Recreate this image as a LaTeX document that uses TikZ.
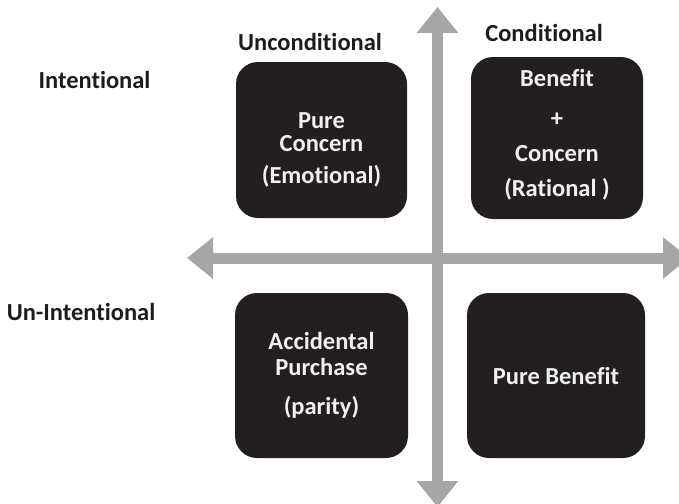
\documentclass[tikz,border=0pt]{standalone}
\usepackage{fontspec}
\setmainfont{Carlito}[Ligatures=NoCommon]
\usetikzlibrary{arrows.meta}
\definecolor{boxblack}{RGB}{35,31,32}
\definecolor{axisgray}{RGB}{166,166,166}
\definecolor{labelblack}{RGB}{28,28,28}
\begin{document}
\begin{tikzpicture}[x=1pt,y=-1pt,font=\fontsize{24.5}{23}\selectfont\bfseries,
  quad/.style={fill=boxblack,rounded corners=22pt,inner sep=0pt},
  quadtext/.style={text=white!94!black,align=center},
  axislbl/.style={text=labelblack},
  axis/.style={axisgray,line width=11pt,
    {Triangle[width=40pt,length=26pt]}-{Triangle[width=40pt,length=26pt]}}]
  \useasboundingbox (0,0) rectangle (679,503);
  \clip (0,0) rectangle (679,503);
  % axes
  \coordinate (top) at (437.5,7);
  \coordinate (bottom) at (437.5,507);
  \coordinate (left) at (187,258);
  \coordinate (right) at (689,258);
  \draw[axis] (top) -- (bottom);
  \draw[axis] (left) -- (right);
  % quadrants
  \node[quad,minimum width=171pt,minimum height=156pt] (tl) at (321.5,140) {};
  \node[quad,minimum width=172pt,minimum height=162pt] (tr) at (557,138) {};
  \node[quad,minimum width=173pt,minimum height=165pt] (bl) at (321.5,375.5) {};
  \node[quad,minimum width=178pt,minimum height=165pt] (br) at (556,375.5) {};
  \node[quadtext] (tltext) at (321.5,150) {Pure\\Concern\\[9pt](Emotional)};
  \node[quadtext] (trtext) at (557,135) {Benefit\\[17pt]+\\[12pt]Concern\\[12pt](Rational )};
  \node[quadtext] (bltext) at (321.5,375) {Accidental\\[3pt]Purchase\\[16pt](parity)};
  \node[quadtext] (brtext) at (556,376) {Pure Benefit};
  % axis labels
  \node[axislbl] (uncond) at (310,42) {Unconditional};
  \node[axislbl] (cond) at (544,33) {Conditional};
  \node[axislbl] (intent) at (94.5,80) {Intentional};
  \node[axislbl] (unintent) at (81,312) {Un-Intentional};
\end{tikzpicture}
\end{document}
